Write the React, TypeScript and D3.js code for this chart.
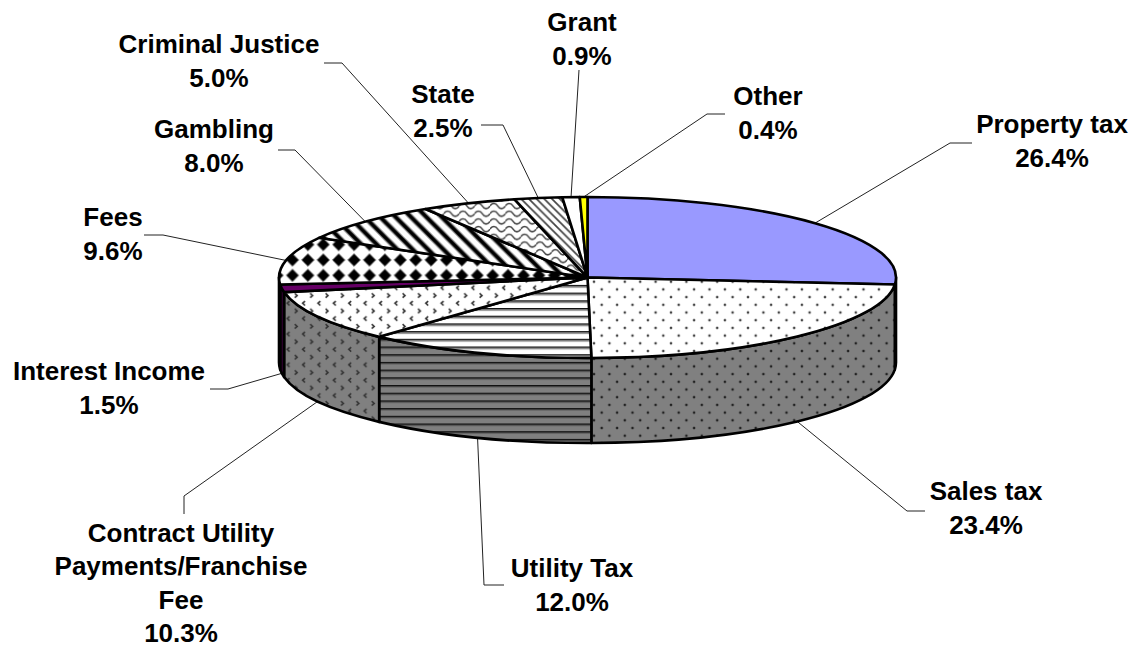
import React from "react";
import * as d3 from "d3";

const categories = ["Property tax","Sales tax","Utility Tax","Contract Utility Payments/Franchise Fee","Interest Income","Fees","Gambling","Criminal Justice","State","Grant","Other"];
const shares = [26.4,23.4,12.0,10.3,1.5,9.6,8.0,5.0,2.5,0.9,0.4];
const labelLines = [["Property tax"],["Sales tax"],["Utility Tax"],["Contract Utility","Payments/Franchise","Fee"],["Interest Income"],["Fees"],["Gambling"],["Criminal Justice"],["State"],["Grant"],["Other"]];
const fills = ["prop","dots","hlines","chev","inter","diam","wide","wave","thin","grant","other"];

// layout of labels: centre x, first baseline y, line gap, elbow points of leader lines
const labelX = [1052,986,572,181,109,113,214,219,443,582,768];
const labelY = [133,500,577,542,380,226,138,53,103,31,105];
const labelGap = [34,34,34,33.3,34,34,34,34,34,34,34];
const elbows = [[[950,143],[972,143]],[[907,511],[925,511]],[[484,585],[504,585]],[[184,496],[184,514]],[[228,389],[210,389]],[[163,235],[144,235]],[[295,150],[278,150]],[[342,63],[324,63]],[[503,125],[481,125]],[[579,70]],[[707,114],[725,114]]];

const W = 1133, H = 648;
const cx = 587.5, cy = 277.5, rx = 308.5, ry = 80.5, depth = 85;
const xs = d3.scaleLinear().domain([-1,1]).range([cx-rx,cx+rx]);
const ys = d3.scaleLinear().domain([-1,1]).range([cy-ry,cy+ry]);
const pt = (a:number):[number,number] => [xs(Math.sin(a)), ys(-Math.cos(a))];
const pie = d3.pie<number>().sort(null)(shares);

const P = 15.4, Q = 7.7;

function Bg({c}:{c:string}) { return <rect width={64} height={64} fill={c}/>; }

function Patterns({suffix,bg,sideDark}:{suffix:string,bg:string,sideDark:boolean}) {
  const d = sideDark ? "#111" : "#222";
  const dot = (x:number,y:number) => <rect key={x+"_"+y} x={x-1.2} y={y-1.2} width={2.4} height={2.4} rx={0.6} fill={d} opacity={0.85}/>;
  return <>
    <pattern id={"dots"+suffix} patternUnits="userSpaceOnUse" x={601.7} y={281.7-7.7} width={P} height={P}>
      <Bg c={bg}/>
      {dot(0,0)}{dot(P,0)}{dot(0,P)}{dot(P,P)}{dot(Q,Q)}
    </pattern>
    <pattern id={"chev"+suffix} patternUnits="userSpaceOnUse" x={300} y={300} width={P} height={P}>
      <Bg c={bg}/>
      <path d="M5,1 L2.6,3.2 L5,5.4" fill="none" stroke="#333" strokeWidth={1.6}/>
      <path d="M10.2,8.8 L12.6,11 L10.2,13.2" fill="none" stroke="#333" strokeWidth={1.6}/>
    </pattern>
    <pattern id={"hlines"+suffix} patternUnits="userSpaceOnUse" x={0} y={300.3} width={20} height={Q}>
      <Bg c={bg}/>
      <rect y={0} width={20} height={1.6} fill="#111"/>
      <rect y={1.6} width={20} height={sideDark?0.8:1.4} fill={sideDark?"#555":"#999"}/>
    </pattern>
    <pattern id={"diam"+suffix} patternUnits="userSpaceOnUse" x={323.3-Q} y={260-Q} width={P} height={P}>
      <Bg c={bg}/>
      <path d={`M${Q},${Q-6.2} L${Q+6.2},${Q} L${Q},${Q+6.2} L${Q-6.2},${Q} Z`} fill="#000" stroke="#555" strokeWidth={0.8}/>
    </pattern>
    <pattern id={"wide"+suffix} patternUnits="userSpaceOnUse" x={404} y={210} width={P} height={P}>
      <Bg c={bg}/>
      <path d={`M-4,-4 L${P+4},${P+4} M${-P-4},-4 L${4},${P+4} M${P-4},-4 L${2*P+4},${P+4}`} stroke="#888" strokeWidth={5.6}/>
      <path d={`M-4,-4 L${P+4},${P+4} M${-P-4},-4 L${4},${P+4} M${P-4},-4 L${2*P+4},${P+4}`} stroke="#000" strokeWidth={3.4}/>
    </pattern>
    <pattern id={"wave"+suffix} patternUnits="userSpaceOnUse" x={490} y={202} width={P} height={Q}>
      <Bg c={bg}/>
      <path d={`M0,4 C2,0.5 5.7,0.5 ${Q},4 S13.4,7.5 ${P},4`} fill="none" stroke="#444" strokeWidth={1.5}/>
    </pattern>
    <pattern id={"thin"+suffix} patternUnits="userSpaceOnUse" x={530} y={200} width={Q} height={Q}>
      <Bg c={bg}/>
      <path d={`M-2,-2 L${Q+2},${Q+2} M${-Q-2},-2 L2,${Q+2} M${Q-2},-2 L${2*Q+2},${Q+2}`} stroke="#444" strokeWidth={1.7}/>
    </pattern>
  </>;
}

const sideColor: Record<string,string> = { prop:"#4c4c80", inter:"#330033", grant:"#808080", other:"#808000" };
const topColor: Record<string,string> = { prop:"#9999ff", inter:"#660066", grant:"#ffffff", other:"#ffff00" };

const topPath = (p:any) => {
  const a = p.startAngle, b = p.endAngle;
  const s = pt(a), e = pt(b);
  return `M${cx},${cy}L${s[0]},${s[1]}A${rx},${ry} 0 ${b-a>Math.PI?1:0} 1 ${e[0]},${e[1]}Z`;
};
const sidePath = (p:any) => {
  const a = Math.max(p.startAngle, Math.PI/2), b = Math.min(p.endAngle, 3*Math.PI/2);
  if (b <= a) return null;
  const s = pt(a), e = pt(b);
  return `M${s[0]},${s[1]}A${rx},${ry} 0 0 1 ${e[0]},${e[1]}L${e[0]},${e[1]+depth}A${rx},${ry} 0 0 0 ${s[0]},${s[1]+depth}Z`;
};

export default function App() {
  return (
    <svg width={W} height={H} viewBox={`0 0 ${W} ${H}`} style={{position:"absolute",left:0,top:0,background:"#fff"}}>
      <defs>
        <Patterns suffix="T" bg="#ffffff" sideDark={false}/>
        <Patterns suffix="S" bg="#808080" sideDark={true}/>
      </defs>
      {pie.map((p,i)=>{
        const mid = (p.startAngle+p.endAngle)/2;
        const a = pt(mid);
        const start:[number,number] = Math.cos(mid)<0 ? [a[0],a[1]+depth] : a;
        const line = d3.line()([start,...elbows[i]] as [number,number][]) as string;
        return <path key={"l"+i} d={line} fill="none" stroke="#222" strokeWidth={1}/>;
      })}
      {pie.map((p,i)=>{
        const f = fills[i];
        const d = sidePath(p);
        return d ? <path key={"s"+i} d={d} fill={sideColor[f] ?? `url(#${f}S)`} stroke="#000" strokeWidth={2.6} strokeLinejoin="round"/> : null;
      })}
      {pie.map((p,i)=>{
        const f = fills[i];
        return <path key={"t"+i} d={topPath(p)} fill={topColor[f] ?? `url(#${f}T)`} stroke="#000" strokeWidth={2.6} strokeLinejoin="round"/>;
      })}
      <g fontFamily="'Liberation Sans', Arial, sans-serif" fontWeight={700} fontSize={26} textAnchor="middle" fill="#000">
        {categories.map((c,i)=>{
          const lines = [...labelLines[i], shares[i].toFixed(1)+"%"];
          return <text key={c} x={labelX[i]} y={labelY[i]}>
            {lines.map((t,j)=><tspan key={j} x={labelX[i]} dy={j?labelGap[i]:0}>{t}</tspan>)}
          </text>;
        })}
      </g>
    </svg>
  );
}
